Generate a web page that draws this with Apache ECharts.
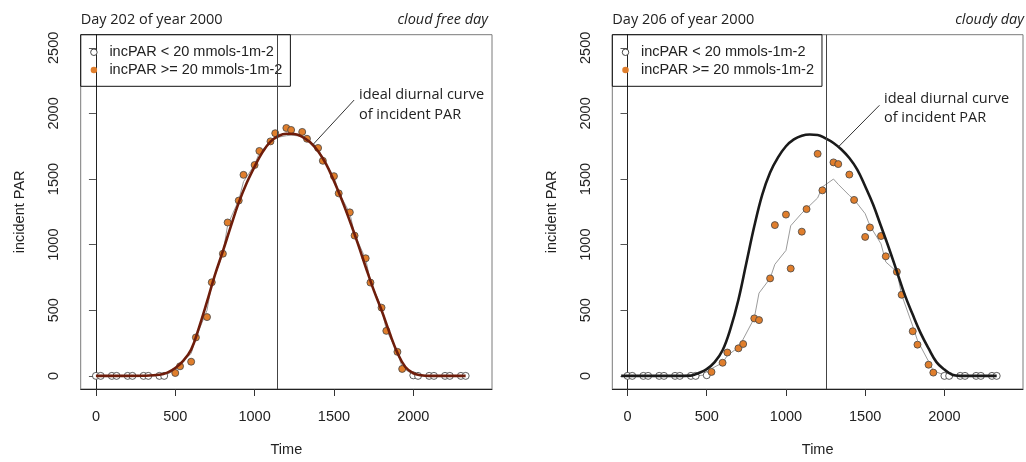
<!DOCTYPE html>
<html lang="en">
<head>
<meta charset="UTF-8"/>
<title>incident PAR</title>
<script src="https://cdn.jsdelivr.net/npm/echarts@6/dist/echarts.min.js"></script>
<style>
html, body { margin: 0; padding: 0; background: #fff; }
#main { width: 1026px; height: 462px; }
</style>
</head>
<body>
<div id="main"></div>
<script>
// observation times (HHMM, plotted as plain numbers)
var times = [0, 30, 100, 130, 200, 230, 300, 330, 400, 430, 500, 530, 600, 630, 700, 730,
  800, 830, 900, 930, 1000, 1030, 1100, 1130, 1200, 1230, 1300, 1330, 1400, 1430, 1500, 1530,
  1600, 1630, 1700, 1730, 1800, 1830, 1900, 1930, 2000, 2030, 2100, 2130, 2200, 2230, 2300, 2330];

// incident PAR, day 202 (cloud free) and day 206 (cloudy)
var par202 = [0, 0, 0, 0, 0, 0, 0, 0, 0, 0, 22, 73, 108, 293, 448, 713,
  931, 1169, 1336, 1532, 1607, 1714, 1787, 1849, 1889, 1874, 1859, 1807, 1737, 1639, 1522, 1391,
  1246, 1069, 896, 711, 520, 343, 183, 53, 4, 0, 0, 0, 0, 0, 0, 0];
var par206 = [0, 0, 0, 0, 0, 0, 0, 0, 0, 0, 5, 30, 100, 178, 210, 243,
  438, 425, 743, 1149, 1229, 818, 1099, 1271, 1692, 1414, 1627, 1614, 1534, 1341, 1059, 1131,
  1066, 911, 793, 618, 340, 238, 85, 25, 0, 0, 0, 0, 0, 0, 0, 0];

// thin grey running curve through the observations
var run202 = [0, 0, 0, 0, 0, 0, 0, 0, 0, 0, 45, 95, 170, 290, 500, 700,
  930, 1150, 1340, 1480, 1610, 1700, 1780, 1815, 1830, 1835, 1825, 1800, 1740, 1650, 1520, 1400,
  1240, 1080, 890, 720, 520, 350, 180, 65, 8, 0, 0, 0, 0, 0, 0, 0];
var run206 = [0, 0, 0, 0, 0, 0, 0, 0, 0, 0, 8, 55, 100, 155, 218, 280,
  440, 631, 743, 850, 956, 1144, 1240, 1275, 1356, 1440, 1500, 1460, 1375, 1344, 1236, 1144,
  1006, 868, 793, 618, 380, 270, 110, 40, 5, 0, 0, 0, 0, 0, 0, 0];

// ideal diurnal curve
var idealTimes202 = [0, 100, 200, 300, 400, 450, 500, 550, 600, 650, 700, 750, 800, 850, 900, 950,
  1000, 1050, 1100, 1150, 1200, 1250, 1300, 1350, 1400, 1450, 1500, 1550, 1600, 1650, 1700, 1750,
  1800, 1850, 1900, 1950, 2000, 2050, 2100, 2200, 2330];
var ideal202 = [0, 0, 0, 1, 8, 25, 60, 115, 200, 370, 565, 770, 950, 1140, 1320, 1470,
  1595, 1705, 1785, 1828, 1845, 1843, 1822, 1780, 1712, 1615, 1485, 1340, 1180, 1010, 830, 655,
  500, 330, 175, 68, 20, 5, 0, 0, 0];
var idealTimes206 = [-40, 0, 100, 200, 300, 400, 450, 500, 550, 600, 650, 700, 750, 800, 850, 900,
  950, 1000, 1050, 1100, 1150, 1200, 1250, 1300, 1350, 1400, 1450, 1500, 1550, 1600, 1650, 1700,
  1750, 1800, 1850, 1900, 1950, 2000, 2050, 2100, 2200, 2330];
var ideal206 = [0, 0, 0, 0, 0, 2, 22, 52, 105, 195, 360, 580, 860, 1140, 1380, 1550,
  1665, 1750, 1802, 1830, 1839, 1836, 1810, 1775, 1725, 1660, 1572, 1445, 1306, 1140, 973, 795,
  617, 467, 326, 209, 105, 48, 8, 0, 0, 0];

var noon202 = 1140;
var noon206 = 1254;
var threshold = 20;

var xTicks = [0, 500, 1000, 1500, 2000];
var yTicks = [0, 500, 1000, 1500, 2000, 2500];

var lowName = 'incPAR < 20 mmols-1m-2';
var highName = 'incPAR >= 20 mmols-1m-2';

var sansR = 'Liberation Sans, Arial, sans-serif';
var sansH = 'Open Sans, sans-serif';

function pairs(xs, ys) {
  var out = [];
  for (var i = 0; i < xs.length; i++) out.push([xs[i], ys[i]]);
  return out;
}
function pick(xs, ys, low) {
  var out = [];
  for (var i = 0; i < xs.length; i++) {
    if ((ys[i] < threshold) === low) out.push([xs[i], ys[i]]);
  }
  return out;
}
function plain(v) { return String(v); }

function xAxisFor(g) {
  return {
    type: 'value', gridIndex: g, min: -96, max: 2496,
    axisLine: { show: true, onZero: false, lineStyle: { color: '#222', width: 1 } },
    axisTick: { show: true, length: 7, customValues: xTicks, lineStyle: { color: '#333' } },
    axisLabel: { customValues: xTicks, formatter: plain, margin: 20, color: '#222', fontFamily: sansR, fontSize: 14.5 },
    splitLine: { show: false },
    name: 'Time', nameLocation: 'middle', nameGap: 53,
    nameTextStyle: { color: '#222', fontFamily: sansR, fontSize: 14.5 }
  };
}
function yAxisFor(g) {
  return {
    type: 'value', gridIndex: g, min: -100, max: 2600,
    axisLine: { show: true, lineStyle: { color: '#222', width: 1 } },
    axisTick: { show: true, length: 7, customValues: yTicks, lineStyle: { color: '#555' } },
    axisLabel: { customValues: yTicks, formatter: plain, rotate: 90, margin: 19, color: '#222', fontFamily: sansR, fontSize: 14.5 },
    splitLine: { show: false },
    name: 'incident PAR', nameLocation: 'middle', nameGap: 53, nameRotate: 90,
    nameTextStyle: { color: '#222', fontFamily: sansR, fontSize: 14.5 }
  };
}

function panelSeries(g, obs, run, it, ideal, curveColor, noon, pointer) {
  return [
    {
      type: 'line', xAxisIndex: g, yAxisIndex: g, data: pairs(times, run),
      showSymbol: false, lineStyle: { color: '#9c9c9c', width: 1 }, z: 2, silent: true
    },
    {
      name: lowName, type: 'scatter', xAxisIndex: g, yAxisIndex: g, data: pick(times, obs, true),
      symbolSize: 7, itemStyle: { color: '#fff', borderColor: '#333', borderWidth: 0.8, opacity: 1 }, z: 3
    },
    {
      name: highName, type: 'scatter', xAxisIndex: g, yAxisIndex: g, data: pick(times, obs, false),
      symbolSize: 7, itemStyle: { color: '#E07E2C', borderColor: '#444', borderWidth: 0.8, opacity: 1 }, z: 3
    },
    {
      type: 'line', xAxisIndex: g, yAxisIndex: g, data: pairs(it, ideal),
      smooth: 0.4, showSymbol: false,
      lineStyle: { color: curveColor, width: 2.6 }, z: 4, silent: true,
      markLine: {
        silent: true, symbol: ['none', 'none'], label: { show: false },
        lineStyle: { type: 'solid', color: '#333', width: 1 },
        data: [
          { xAxis: noon, lineStyle: { color: '#444', width: 1 } },
          [{ coord: pointer[0] }, { coord: pointer[1] }]
        ]
      }
    }
  ];
}

var chart = echarts.init(document.getElementById('main'));

var titleStyle = { fontFamily: sansH, fontSize: 14.5, fontWeight: 'normal', color: '#222', lineHeight: 18 };
var italicStyle = { fontFamily: sansH, fontSize: 14.5, fontWeight: 'normal', fontStyle: 'italic', color: '#222', lineHeight: 18 };

function legendFor(left) {
  return {
    orient: 'vertical', left: left, top: 34.7,
    data: [
      { name: lowName, icon: 'circle', itemStyle: { color: '#fff', borderColor: '#333', borderWidth: 0.9 } },
      { name: highName, icon: 'circle', itemStyle: { color: '#E07E2C', borderWidth: 0 } }
    ],
    itemWidth: 21, itemHeight: 6.5, itemGap: 0,
    padding: [8.7, 8, 7.5, 9.5],
    borderColor: '#111', borderWidth: 1, backgroundColor: 'transparent',
    selectedMode: false,
    textStyle: { fontFamily: sansR, fontSize: 14.5, color: '#222', lineHeight: 17.7 }
  };
}

var option = {
  animation: false,
  backgroundColor: '#fff',
  title: [
    { text: 'Day 202 of year 2000', left: 80.7, top: 11, padding: 0, textStyle: titleStyle },
    { text: 'cloud free day', right: 538, top: 11, padding: 0, textStyle: italicStyle },
    { text: 'Day 206 of year 2000', left: 612.3, top: 11, padding: 0, textStyle: titleStyle },
    { text: 'cloudy day', right: 2, top: 11, padding: 0, textStyle: italicStyle }
  ],
  legend: [legendFor(80.7), legendFor(612.3)],
  grid: [
    { left: 80.7, top: 34.7, width: 411.3, height: 359.3, show: true, borderColor: '#7a7a7a', borderWidth: 1, backgroundColor: 'transparent' },
    { left: 612.3, top: 34.7, width: 410.7, height: 359.3, show: true, borderColor: '#7a7a7a', borderWidth: 1, backgroundColor: 'transparent' }
  ],
  xAxis: [xAxisFor(0), xAxisFor(1)],
  yAxis: [yAxisFor(0), yAxisFor(1)],
  series: [].concat(
    panelSeries(0, par202, run202, idealTimes202, ideal202, '#6E1D0B', noon202, [[1627, 2102], [1371, 1767]]),
    panelSeries(1, par206, run206, idealTimes206, ideal206, '#1a1a1a', noon206, [[1590, 2062], [1334, 1749]])
  ),
  graphic: [
    { type: 'text', left: 359, top: 85.3, style: { text: 'ideal diurnal curve\nof incident PAR', fill: '#222', font: '14.5px ' + sansH, lineHeight: 19.5 } },
    { type: 'text', left: 884, top: 89, style: { text: 'ideal diurnal curve\nof incident PAR', fill: '#222', font: '14.5px ' + sansH, lineHeight: 19.5 } }
  ]
};

chart.setOption(option);
</script>
</body>
</html>
